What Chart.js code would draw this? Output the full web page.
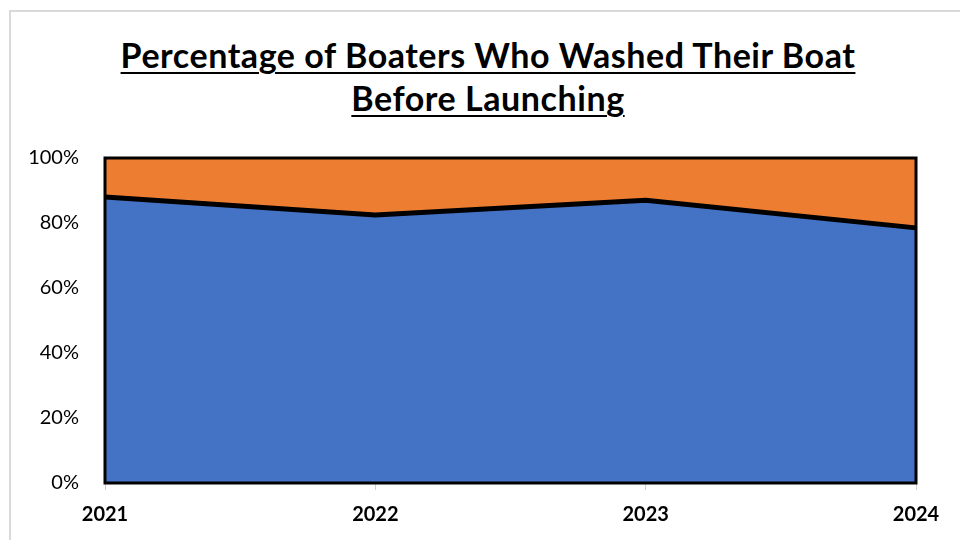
<!DOCTYPE html>
<html lang="en">
<head>
    <meta charset="UTF-8">
    <title>Boaters washing boats</title>
    <style>
    body {
        margin: 0;
        width: 960px;
        height: 540px;
        overflow: hidden;
        background: #fff;
        font-family: Lato, "Open Sans", sans-serif;
    }
    .frame {
        position: absolute;
        left: 9px;
        top: 10px;
        width: 980px;
        height: 560px;
        border: 2px solid #d9d9d9;
    }
    .title {
        position: absolute;
        left: 0;
        top: 33px;
        width: 976px;
        text-align: center;
        font-weight: bold;
        font-size: 34px;
        letter-spacing: 0.55px;
        line-height: 43px;
        color: #000;
        text-decoration: underline;
        text-decoration-thickness: 2px;
        text-underline-offset: 4px;
    }
    #chart {
        position: absolute;
        left: 0;
        top: 0;
    }
    </style>
</head>
<body>
<div class="frame"></div>
<div class="title">Percentage of Boaters Who Washed Their Boat<br>Before Launching</div>
<canvas id="chart" width="960" height="540"></canvas>

<script src="https://cdn.jsdelivr.net/npm/chart.js"></script>
<script>
    // dati
    var years = ['2021', '2022', '2023', '2024'];
    var washed = [88, 82.5, 87, 78.5];
    var notWashed = [12, 17.5, 13, 21.5];
    var yTicks = [0, 20, 40, 60, 80, 100];

    // bordo nero attorno all'area del grafico
    var plotBorder = {
        id: 'plotBorder',
        afterDatasetsDraw: function(chart) {
            var a = chart.chartArea;
            var ctx = chart.ctx;
            ctx.save();
            ctx.strokeStyle = '#000';
            ctx.lineWidth = 3;
            ctx.strokeRect(a.left, a.top, a.right - a.left, a.bottom - a.top);
            ctx.restore();
        }
    };

    new Chart(document.getElementById('chart'), {
        type: 'line',
        data: {
            labels: years,
            datasets: [{
                label: 'Washed',
                data: washed,
                backgroundColor: '#4472C4',
                borderColor: '#000',
                borderWidth: 5,
                pointRadius: 0,
                fill: 'origin',
                tension: 0
            }, {
                label: 'Did not wash',
                data: notWashed,
                backgroundColor: '#ED7D31',
                borderWidth: 0,
                borderColor: 'rgba(0,0,0,0)',
                pointRadius: 0,
                fill: '-1',
                tension: 0
            }]
        },
        options: {
            responsive: false,
            animation: false,
            events: [],
            layout: { padding: { top: 158, right: 44, left: 0, bottom: 0 } },
            plugins: {
                legend: { display: false },
                tooltip: { enabled: false }
            },
            scales: {
                x: {
                    offset: false,
                    grid: {
                        drawOnChartArea: false,
                        drawTicks: true,
                        tickLength: 7,
                        color: '#d0d0d0'
                    },
                    border: { display: false },
                    ticks: {
                        color: '#000',
                        padding: 13,
                        maxRotation: 0,
                        font: { family: 'Lato', size: 20, weight: 'bold' }
                    },
                    afterFit: function(scale) { scale.height = 57; }
                },
                y: {
                    stacked: true,
                    min: 0,
                    max: 100,
                    grid: { display: false },
                    border: { display: false },
                    afterBuildTicks: function(scale) {
                        scale.ticks = yTicks.map(function(v) { return { value: v }; });
                    },
                    ticks: {
                        color: '#000',
                        padding: 18,
                        callback: function(v) { return v + '%'; },
                        font: { family: 'Lato', size: 20 }
                    },
                    afterFit: function(scale) { scale.width = 105; }
                }
            }
        },
        plugins: [plotBorder]
    });
</script>
</body>
</html>
